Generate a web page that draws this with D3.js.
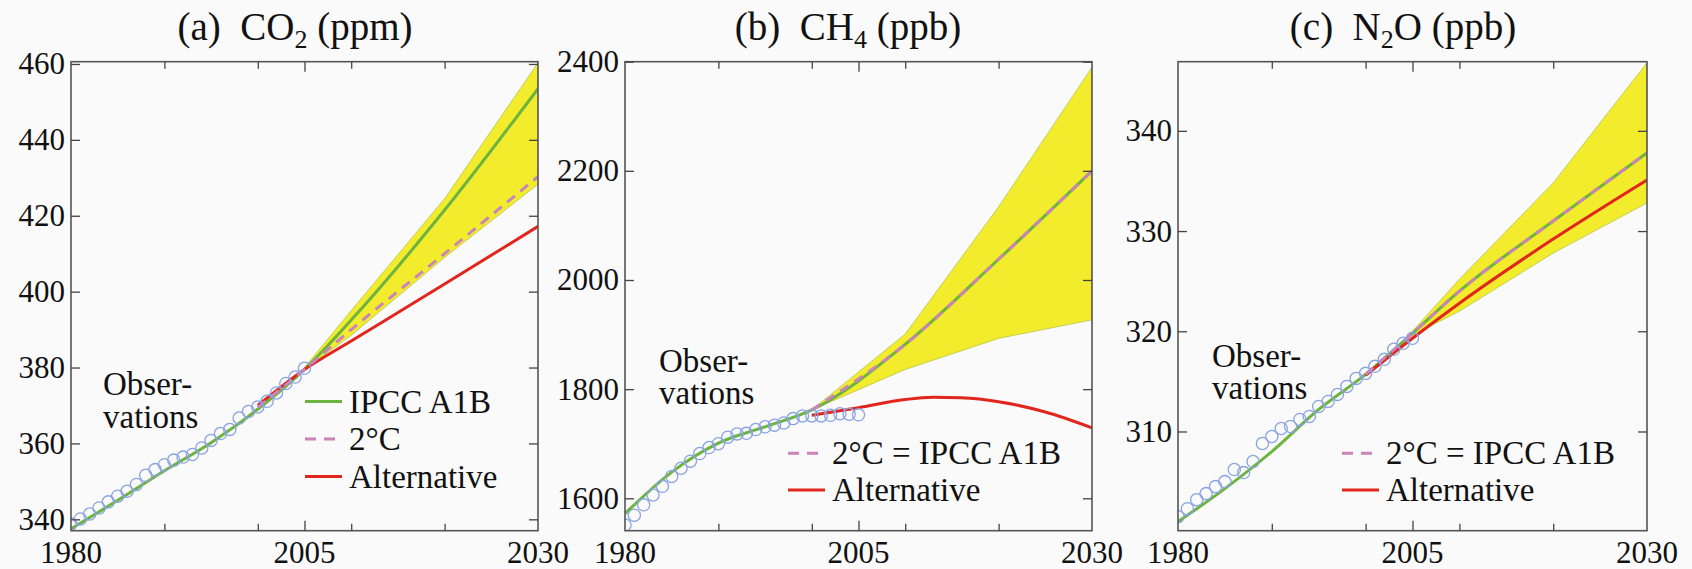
<!DOCTYPE html>
<html>
<head>
<meta charset="utf-8">
<script src="https://cdn.jsdelivr.net/npm/d3@7"></script>
<style>
  body { margin: 0; background: #fafafa; }
  svg { display: block; }
  text { font-family: "Liberation Serif", "Times New Roman", serif; fill: #111; }
</style>
</head>
<body>
<div id="chart-area"></div>
<script>
/*
*    three gas panels: observations + scenarios
*/

// observation years
var obsYears = d3.range(1980, 2006);
var tickYears = [1990, 2000, 2005, 2010, 2020];
var labelYears = [1980, 2005, 2030];

// (a) CO2
var co2Obs = [338.8, 340.1, 341.4, 343.0, 344.6, 346.1, 347.4, 349.2, 351.6, 353.1,
              354.4, 355.6, 356.4, 357.1, 358.8, 360.8, 362.6, 363.7, 366.7, 368.4,
              369.6, 371.1, 373.3, 375.8, 377.5, 379.8];
var co2A1BYears = [1980, 1985, 1990, 1995, 2000, 2005, 2010, 2020, 2030];
var co2A1B = [337.5, 345.0, 352.8, 360.2, 369.0, 379.5, 392.5, 421.5, 453.5];
var co2TwoDegYears = [2000, 2005, 2010, 2020, 2030];
var co2TwoDeg = [369.5, 379.5, 390.0, 410.0, 430.3];
var co2AltYears = [2000, 2005, 2010, 2020, 2030];
var co2Alt = [370.0, 379.5, 387.0, 402.0, 417.2];
var co2BandYears = [2005, 2010, 2020, 2030];
var co2BandLow = [379.5, 388.5, 409.0, 428.3];
var co2BandHigh = [380.0, 395.0, 424.5, 460.3];

// (b) CH4
var ch4Obs = [1551, 1569, 1588, 1606, 1622, 1640, 1655, 1668, 1682, 1693,
              1700, 1712, 1718, 1719, 1726, 1731, 1734, 1738, 1746, 1751,
              1751, 1751, 1752, 1755, 1754, 1753];
var ch4A1BYears = [1980, 1985, 1990, 1995, 2000, 2010, 2020, 2030];
var ch4A1B = [1572, 1648, 1701, 1731, 1762, 1882, 2038, 2200];
var ch4TwoDegYears = [2000, 2010, 2020, 2030];
var ch4TwoDeg = [1762, 1882, 2038, 2200];
var ch4AltYears = [2000, 2005, 2010, 2013, 2016, 2020, 2025, 2030];
var ch4Alt = [1752, 1766, 1781, 1785, 1784, 1777, 1758, 1729];
var ch4BandYears = [2000, 2010, 2020, 2030];
var ch4BandLow = [1762, 1836, 1893, 1927];
var ch4BandHigh = [1762, 1901, 2134, 2390];

// (c) N2O
var n2oObs = [301.5, 302.3, 303.2, 303.8, 304.5, 305.0, 306.2, 305.9, 307.0, 308.8,
              309.5, 310.3, 310.5, 311.2, 311.5, 312.5, 313.0, 313.7, 314.5, 315.3,
              315.8, 316.5, 317.2, 318.2, 318.8, 319.3];
var n2oA1BYears = [1980, 1985, 1990, 1995, 2000, 2005, 2010, 2020, 2030];
var n2oA1B = [301.0, 304.3, 308.0, 312.2, 315.7, 319.8, 324.0, 331.0, 337.8];
var n2oTwoDegYears = [2000, 2005, 2010, 2020, 2030];
var n2oTwoDeg = [315.7, 319.8, 324.0, 331.0, 337.8];
var n2oAltYears = [2000, 2005, 2010, 2020, 2030];
var n2oAlt = [315.6, 319.3, 322.8, 329.2, 335.1];
var n2oBandYears = [2005, 2010, 2020, 2030];
var n2oBandLow = [319.6, 322.0, 327.8, 332.8];
var n2oBandHigh = [320.0, 325.2, 334.8, 346.8];

var zip = (xs, ys) => xs.map((x, i) => ({ year: x, v: ys[i] }));

var panels = [
    { left: 71, right: 538, yDomain: [337.0, 460.6], yTicks: [340, 360, 380, 400, 420, 440, 460],
      title: ["(a)\u00a0\u00a0CO", "2", " (ppm)"], titleX: 295,
      obs: co2Obs, a1b: zip(co2A1BYears, co2A1B), twoDeg: zip(co2TwoDegYears, co2TwoDeg),
      alt: zip(co2AltYears, co2Alt),
      band: co2BandYears.map((y, i) => ({ year: y, lo: co2BandLow[i], hi: co2BandHigh[i] })),
      obsLabel: [103, 395],
      legend: [{ label: "IPCC A1B", kind: "green" }, { label: "2\u00b0C", kind: "dash" }, { label: "Alternative", kind: "red" }],
      legendX: 305, legendY: 401.5, legendStep: 37.5 },
    { left: 625, right: 1092, yDomain: [1540.6, 2400], yTicks: [1600, 1800, 2000, 2200, 2400],
      title: ["(b)\u00a0\u00a0CH", "4", " (ppb)"], titleX: 848,
      obs: ch4Obs, a1b: zip(ch4A1BYears, ch4A1B), twoDeg: zip(ch4TwoDegYears, ch4TwoDeg),
      alt: zip(ch4AltYears, ch4Alt),
      band: ch4BandYears.map((y, i) => ({ year: y, lo: ch4BandLow[i], hi: ch4BandHigh[i] })),
      obsLabel: [659, 371.5],
      legend: [{ label: "2\u00b0C = IPCC A1B", kind: "dash" }, { label: "Alternative", kind: "red" }],
      legendX: 788, legendY: 453.3, legendStep: 36.7 },
    { left: 1178, right: 1647, yDomain: [300.1, 346.9], yTicks: [310, 320, 330, 340],
      title: ["(c)\u00a0\u00a0N", "2", "O (ppb)"], titleX: 1403,
      obs: n2oObs, a1b: zip(n2oA1BYears, n2oA1B), twoDeg: zip(n2oTwoDegYears, n2oTwoDeg),
      alt: zip(n2oAltYears, n2oAlt),
      band: n2oBandYears.map((y, i) => ({ year: y, lo: n2oBandLow[i], hi: n2oBandHigh[i] })),
      obsLabel: [1212, 366.7],
      legend: [{ label: "2\u00b0C = IPCC A1B", kind: "dash" }, { label: "Alternative", kind: "red" }],
      legendX: 1342, legendY: 453.3, legendStep: 36.7 }
];

var plotTop = 61.7, plotBottom = 530.7;
var green = "#6cb33f", pink = "#c984b8", red = "#e0261d", yellow = "#f2ec2c", circleCol = "#8aa3e2";

var svg = d3.select("#chart-area").append("svg")
    .attr("width", 1692)
    .attr("height", 569);

svg.append("rect").attr("width", 1692).attr("height", 569).attr("fill", "#fafafa");

panels.forEach((p, pi) => {
    var x = d3.scaleLinear().domain([1980, 2030]).range([p.left, p.right]);
    var y = d3.scaleLinear().domain(p.yDomain).range([plotBottom, plotTop]);

    var g = svg.append("g");

    g.append("clipPath").attr("id", "clip" + pi)
      .append("rect")
        .attr("x", p.left).attr("y", plotTop)
        .attr("width", p.right - p.left).attr("height", plotBottom - plotTop);

    var plot = g.append("g").attr("clip-path", "url(#clip" + pi + ")");

    // uncertainty band
    plot.append("path")
        .datum(p.band)
        .attr("d", d3.area().x(d => x(d.year)).y0(d => y(d.lo)).y1(d => y(d.hi)))
        .attr("fill", yellow)
        .attr("stroke", "#b6c64c")
        .attr("stroke-width", 0.8);

    var line = d3.line().x(d => x(d.year)).y(d => y(d.v)).curve(d3.curveMonotoneX);

    plot.append("path").datum(p.a1b).attr("d", line)
        .attr("fill", "none").attr("stroke", green).attr("stroke-width", 3);
    plot.append("path").datum(p.alt).attr("d", line)
        .attr("fill", "none").attr("stroke", red).attr("stroke-width", 3);
    plot.append("path").datum(p.twoDeg).attr("d", line)
        .attr("fill", "none").attr("stroke", pink).attr("stroke-width", 3)
        .attr("stroke-dasharray", "10,7");

    plot.selectAll("circle.obs")
        .data(p.obs)
        .enter()
        .append("circle")
            .attr("class", "obs")
            .attr("cx", (d, i) => x(obsYears[i]))
            .attr("cy", d => y(d))
            .attr("r", 6.1)
            .attr("fill", "none")
            .attr("stroke", circleCol)
            .attr("stroke-width", 1.3);

    // frame
    g.append("rect")
        .attr("x", p.left).attr("y", plotTop)
        .attr("width", p.right - p.left).attr("height", plotBottom - plotTop)
        .attr("fill", "none").attr("stroke", "#555").attr("stroke-width", 1.6);

    // inward ticks: y on both sides, x on top and bottom
    var yAxisL = d3.axisLeft(y).tickValues(p.yTicks).tickSize(-9).tickFormat("");
    var yAxisR = d3.axisRight(y).tickValues(p.yTicks).tickSize(-9).tickFormat("");
    var xAxisB = d3.axisBottom(x).tickValues(tickYears).tickSize(-7).tickFormat("");
    var xAxisT = d3.axisTop(x).tickValues(tickYears).tickSize(-7).tickFormat("");

    [g.append("g").attr("transform", "translate(" + p.left + ",0)").call(yAxisL),
     g.append("g").attr("transform", "translate(" + p.right + ",0)").call(yAxisR),
     g.append("g").attr("transform", "translate(0," + plotBottom + ")").call(xAxisB),
     g.append("g").attr("transform", "translate(0," + plotTop + ")").call(xAxisT)
    ].forEach(a => {
        a.select(".domain").remove();
        a.selectAll("line").attr("stroke", "#444").attr("stroke-width", 1.3);
    });
    g.selectAll(".tick").filter(d => d === 2005).select("line")
        .attr("y2", function() { return +d3.select(this).attr("y2") < 0 ? -10 : 10; });

    // tick labels
    g.selectAll("text.ylab")
        .data(p.yTicks)
        .enter()
        .append("text")
            .attr("x", p.left - 6)
            .attr("y", d => y(d) + 10.5)
            .attr("text-anchor", "end")
            .style("font-size", "31px")
            .text(d => d);

    g.selectAll("text.xlab")
        .data(labelYears)
        .enter()
        .append("text")
            .attr("x", d => x(d))
            .attr("y", 563)
            .attr("text-anchor", "middle")
            .style("font-size", "31px")
            .text(d => d);

    // title with subscript
    var t = g.append("text")
        .attr("x", p.titleX)
        .attr("y", 40)
        .attr("text-anchor", "middle")
        .style("font-size", "39px");
    t.append("tspan").text(p.title[0]);
    t.append("tspan").attr("dy", 8).style("font-size", "26px").text(p.title[1]);
    t.append("tspan").attr("dy", -8).text(p.title[2]);

    // "Observations" note
    var ob = g.append("text")
        .attr("x", p.obsLabel[0])
        .attr("y", p.obsLabel[1])
        .style("font-size", "33px");
    ob.append("tspan").attr("x", p.obsLabel[0]).text("Obser-");
    ob.append("tspan").attr("x", p.obsLabel[0]).attr("dy", 32.5).text("vations");

    // legend
    p.legend.forEach((item, i) => {
        var ly = p.legendY + i * p.legendStep;
        var ln = g.append("line")
            .attr("x1", p.legendX).attr("x2", p.legendX + 37)
            .attr("y1", ly).attr("y2", ly)
            .attr("stroke-width", 3);
        if (item.kind === "green") ln.attr("stroke", green);
        if (item.kind === "red") ln.attr("stroke", red);
        if (item.kind === "dash") ln.attr("stroke", pink).attr("stroke-dasharray", "11,8");
        g.append("text")
            .attr("x", p.legendX + 44)
            .attr("y", ly + 11)
            .style("font-size", "33px")
            .text(item.label);
    });
});
</script>
</body>
</html>
